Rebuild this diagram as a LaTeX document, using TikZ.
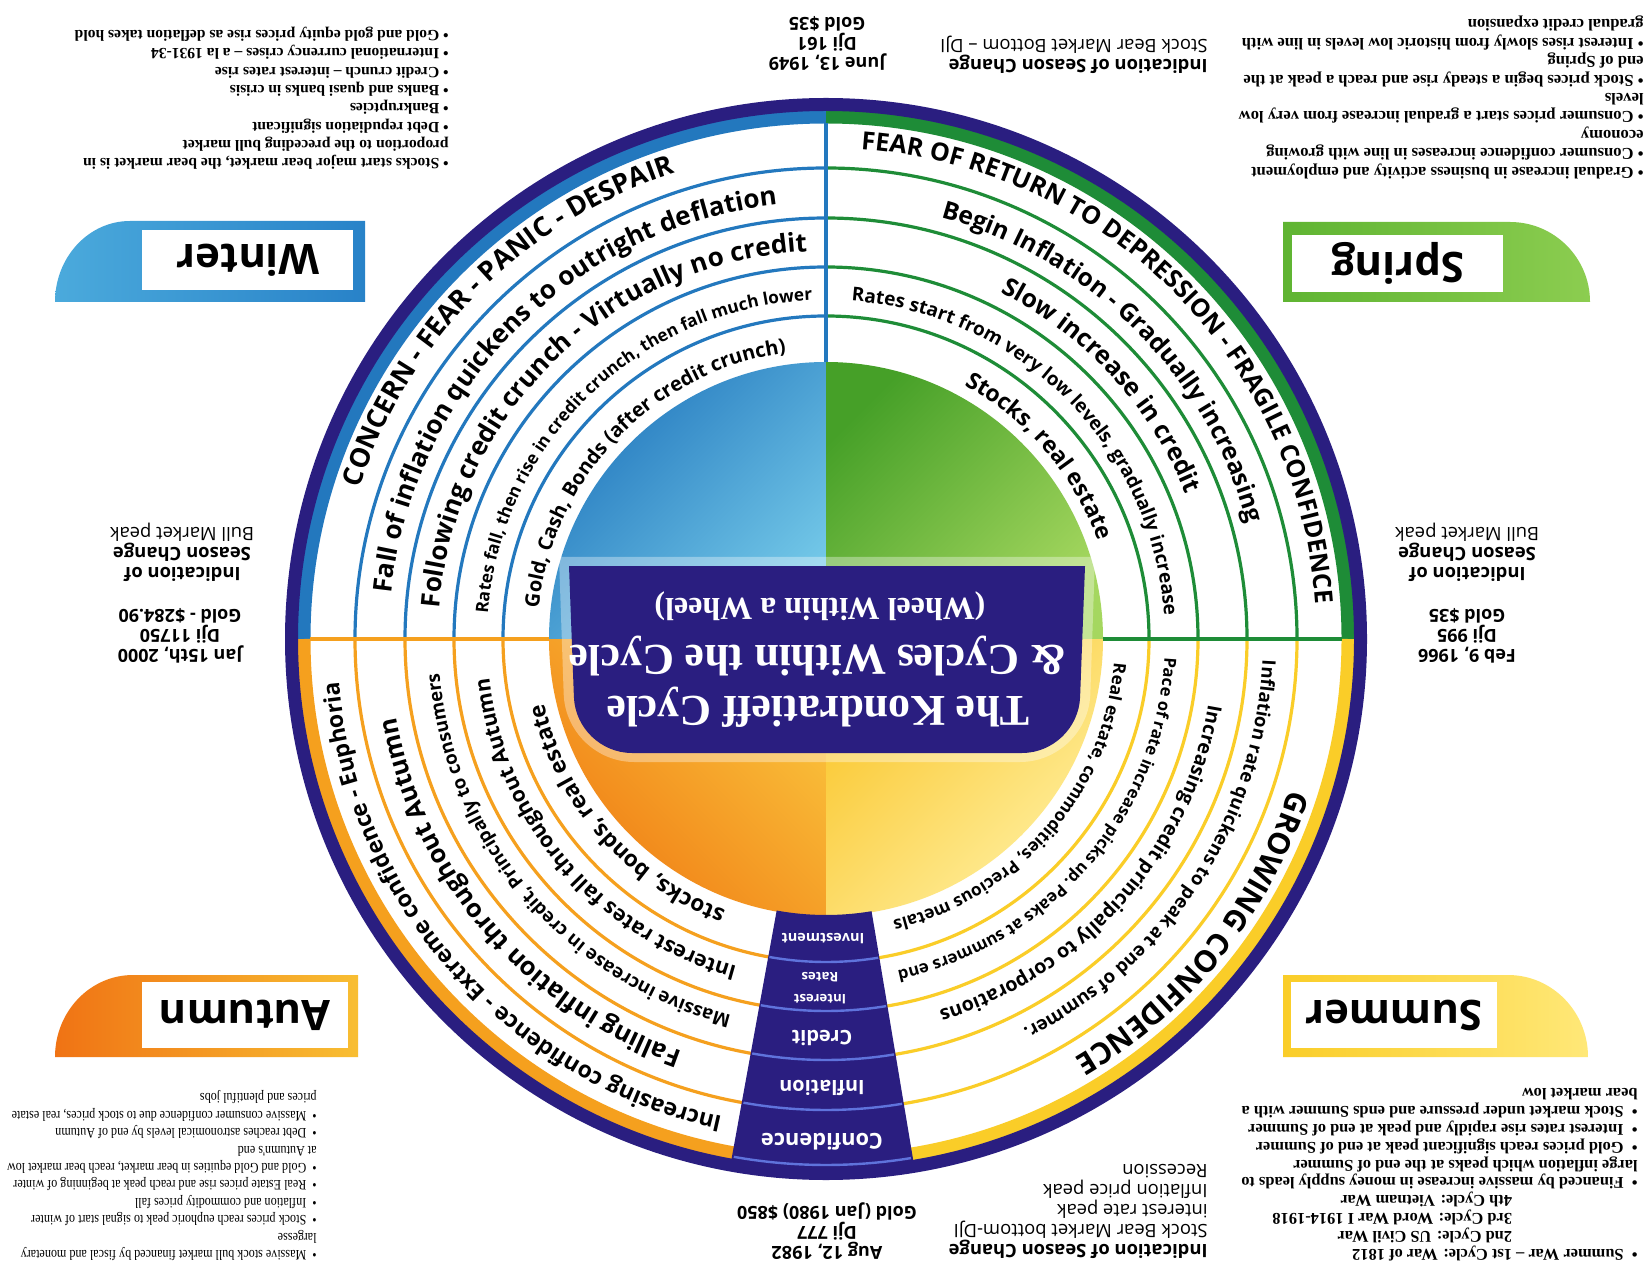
\documentclass[tikz,border=0pt]{standalone}
\usepackage{fontspec}
\setmainfont{Liberation Serif}
\setsansfont{Open Sans}
\newfontfamily\narrowserif[FakeStretch=0.84]{Liberation Serif}
\usetikzlibrary{decorations.text}

\definecolor{knavy}{RGB}{42,30,128}
\definecolor{kwedgeline}{RGB}{95,115,220}
\definecolor{winterblue}{RGB}{35,120,190}
\definecolor{winterlight}{RGB}{115,200,232}
\definecolor{springgreen}{RGB}{30,140,55}
\definecolor{springdark}{RGB}{70,160,40}
\definecolor{springlight}{RGB}{165,215,95}
\definecolor{autumnorange}{RGB}{245,160,30}
\definecolor{autumndark}{RGB}{240,125,20}
\definecolor{autumnlight}{RGB}{250,195,60}
\definecolor{summeryellow}{RGB}{250,205,40}
\definecolor{summergold}{RGB}{250,200,50}
\definecolor{summerlight}{RGB}{255,240,160}
\definecolor{wintertabA}{RGB}{75,170,220}
\definecolor{wintertabB}{RGB}{40,130,200}
\definecolor{springtabA}{RGB}{95,180,50}
\definecolor{springtabB}{RGB}{140,205,80}
\definecolor{autumntabA}{RGB}{240,115,20}
\definecolor{autumntabB}{RGB}{248,190,50}
\definecolor{summertabA}{RGB}{250,205,40}
\definecolor{summertabB}{RGB}{255,232,120}

% text set along a ring, centred on angle #1 at radius #2
\newcommand{\ringtext}[4]{%
  \path[decorate,decoration={text along path,text align=center,
      text={|\sffamily\bfseries\fontsize{#3}{#3}\selectfont|#4}}]
    (#1+70:#2) arc[start angle=#1+70,end angle=#1-70,radius=#2];}
% the coloured rings of one season, from angle #1 to #2
\newcommand{\seasonrings}[3]{%
  \draw[#3,line width=6.5pt] (#1:522) arc[start angle=#1,end angle=#2,radius=522];
  \draw[#3,ringline] (#1:323) arc[start angle=#1,end angle=#2,radius=323];
  \draw[#3,ringline] (#1:372) arc[start angle=#1,end angle=#2,radius=372];
  \draw[#3,ringline] (#1:421) arc[start angle=#1,end angle=#2,radius=421];
  \draw[#3,ringline] (#1:471) arc[start angle=#1,end angle=#2,radius=471];}

\begin{document}
\begin{tikzpicture}[x=0.5pt,y=0.5pt,
  ringline/.style={line width=1.6pt},
  flipped/.style={rotate=180,inner sep=0pt},
  datetxt/.style={flipped,align=center,font=\sffamily\bfseries\fontsize{9}{10}\selectfont},
  notetxt/.style={flipped,align=left,font=\sffamily\fontsize{9.2}{10}\selectfont},
  listtxt/.style={flipped,align=left,anchor=north west},
  tablabel/.style={flipped,font=\sffamily\bfseries\fontsize{21}{21}\selectfont},
  titletxt/.style={flipped,text=white,font=\bfseries\fontsize{22}{22}\selectfont},
  wedgetxt/.style={flipped,text=white,align=center}]

  \useasboundingbox (0,0) rectangle (1652,-1277);
  \fill[white] (0,0) rectangle (1652,-1277);

  \begin{scope}[shift={(826,-639)}]
    % inner disk
    \shade[top color=winterblue,bottom color=winterlight,shading angle=45]
      (0,0) -- (90:277) arc[start angle=90,end angle=180,radius=277] -- cycle;
    \shade[top color=springdark,bottom color=springlight,shading angle=45]
      (0,0) -- (0:277) arc[start angle=0,end angle=90,radius=277] -- cycle;
    \shade[top color=autumnlight,bottom color=autumndark,shading angle=-45]
      (0,0) -- (180:277) arc[start angle=180,end angle=270,radius=277] -- cycle;
    \shade[top color=summergold,bottom color=summerlight,shading angle=45]
      (0,0) -- (270:277) arc[start angle=270,end angle=360,radius=277] -- cycle;

    % rings
    \seasonrings{90}{180}{winterblue}
    \seasonrings{0}{90}{springgreen}
    \seasonrings{180}{270}{autumnorange}
    \seasonrings{270}{360}{summeryellow}
    \fill[knavy,even odd rule] (0,0) circle[radius=541] (0,0) circle[radius=528];

    \draw[winterblue,ringline] (90:277) -- (90:516);
    \draw[springgreen,ringline] (0:277) -- (0:516);
    \draw[autumnorange,ringline] (180:277) -- (180:516);

    % wedge of the five cycles
    \fill[knavy] (-100.3:276) arc[start angle=-100.3,end angle=-80.5,radius=276]
      -- (-80.5:536) arc[start angle=-80.5,end angle=-100.3,radius=536] -- cycle;
    \draw[kwedgeline,line width=1.2pt] (-100.1:323) arc[start angle=-100.1,end angle=-80.7,radius=323];
    \draw[kwedgeline,line width=1.2pt] (-100.1:372) arc[start angle=-100.1,end angle=-80.7,radius=372];
    \draw[kwedgeline,line width=1.2pt] (-100.1:421) arc[start angle=-100.1,end angle=-80.7,radius=421];
    \draw[kwedgeline,line width=1.2pt] (-100.1:471) arc[start angle=-100.1,end angle=-80.7,radius=471];
    \draw[kwedgeline,line width=1.2pt] (-100.1:526) arc[start angle=-100.1,end angle=-80.7,radius=526];

    % Spring
    \ringtext{45}{491}{12.5}{FEAR OF RETURN TO DEPRESSION - FRAGILE CONFIDENCE}
    \ringtext{45}{437}{12.3}{Begin Inflation - Gradually increasing}
    \ringtext{42.6}{388}{12.5}{Slow increase in credit}
    \ringtext{44.8}{339}{9.5}{Rates start from very low levels, gradually increase}
    \ringtext{40.6}{289}{11.5}{Stocks, real estate}
    % Winter
    \ringtext{135}{490}{13.5}{CONCERN - FEAR - PANIC - DESPAIR}
    \ringtext{135.2}{437}{13}{Fall of inflation quickens to outright deflation}
    \ringtext{134.1}{388}{13}{Following credit crunch - Virtually no credit}
    \ringtext{134}{339}{8.6}{Rates fall, then rise in credit crunch, then fall much lower}
    \ringtext{135.9}{289}{10}{Gold, Cash, Bonds (after credit crunch)}
    % Summer
    \ringtext{-38.7}{487}{15}{GROWING CONFIDENCE}
    \ringtext{-33}{437}{9.3}{Inflation rate quickens to peak at end of summer.}
    \ringtext{-41.4}{388}{9.8}{Increasing credit principally to corporations}
    \ringtext{-40.5}{339}{8.3}{Pace of rate increase picks up. Peaks at summers end}
    \ringtext{-40.7}{289}{8.6}{Real estate, commodities, Precious metals}
    % Autumn
    \ringtext{-138.6}{489}{11.5}{Increasing confidence - Extreme confidence - Euphoria}
    \ringtext{-139.5}{437}{12.7}{Falling inflation throughout Autumn}
    \ringtext{-139.5}{388}{9.3}{Massive increase in credit, Principally to consumers}
    \ringtext{-139.3}{339}{10.6}{Interest rates fall throughout Autumn}
    \ringtext{-138.7}{289}{11.3}{stocks, bonds, real estate}
  \end{scope}

  % title banner
  \fill[white,opacity=0.35] (559,-557) -- (1095,-557) [rounded corners=34]-- (1088,-762) -- (566,-762) [sharp corners]-- cycle;
  \fill[knavy] (569,-566) -- (1085,-566) [rounded corners=28]-- (1078,-753) -- (576,-753) [sharp corners]-- cycle;
  \node[titletxt] (title1) at (818,-707) {The Kondratieff Cycle};
  \node[titletxt] (title2) at (818,-656) {\& Cycles Within the Cycle};
  \node[titletxt,font=\bfseries\fontsize{16}{16}\selectfont] (title3) at (820,-606) {(Wheel Within a Wheel)};

  % wedge labels
  \node[wedgetxt,font=\sffamily\bfseries\fontsize{7.2}{8}\selectfont] (investment) at (823,-939) {Investment};
  \node[wedgetxt,font=\sffamily\bfseries\fontsize{6.6}{11}\selectfont] (rates) at (820,-988) {Interest\\Rates};
  \node[wedgetxt,font=\sffamily\bfseries\fontsize{10}{10}\selectfont] (credit) at (822,-1038) {Credit};
  \node[wedgetxt,font=\sffamily\bfseries\fontsize{9.9}{10}\selectfont] (inflation) at (822,-1088) {Inflation};
  \node[wedgetxt,font=\sffamily\bfseries\fontsize{10.9}{11}\selectfont] (confidence) at (822,-1142) {Confidence};

  % season tabs
  \shade[left color=wintertabA,right color=wintertabB] (55,-302) -- (365,-302) -- (365,-221) -- (130,-221)
    arc[start angle=90,end angle=180,x radius=75,y radius=81] -- cycle;
  \fill[white] (142,-230) rectangle (353,-290);
  \node[tablabel] (winter) at (248,-260) {Winter};

  \shade[left color=springtabA,right color=springtabB] (1283,-302) -- (1590,-302)
    arc[start angle=0,end angle=90,x radius=80,y radius=80] -- (1283,-222) -- cycle;
  \fill[white] (1292,-235) rectangle (1503,-292);
  \node[tablabel] (spring) at (1398,-263) {Spring};

  \shade[left color=autumntabA,right color=autumntabB] (55,-1057) -- (358,-1057) -- (358,-975) -- (133,-975)
    arc[start angle=90,end angle=180,x radius=78,y radius=82] -- cycle;
  \fill[white] (142,-982) rectangle (348,-1048);
  \node[tablabel] (autumn) at (245,-1015) {Autumn};

  \shade[left color=summertabA,right color=summertabB] (1283,-1057) -- (1588,-1057)
    arc[start angle=0,end angle=90,x radius=80,y radius=82] -- (1283,-975) -- cycle;
  \fill[white] (1291,-982) rectangle (1497,-1048);
  \node[tablabel] (summer) at (1394,-1015) {Summer};

  % dates and season changes
  \node[datetxt] (date1949) at (827,-44) {June 13, 1949\\Dji 161\\Gold \$35};
  \node[notetxt,anchor=west] (note1949) at (1208,-55) {\textbf{Indication of Season Change}\\Stock Bear Market Bottom – DJI};
  \node[notetxt,align=center] (note2000) at (182,-552) {\textbf{Indication of}\\\textbf{Season Change}\\Bull Market peak};
  \node[datetxt] (date2000) at (180,-636) {Jan 15th, 2000\\Dji 11750\\Gold - \$284.90};
  \node[notetxt,align=center] (note1966) at (1467,-552) {\textbf{Indication of}\\\textbf{Season Change}\\Bull Market peak};
  \node[datetxt] (date1966) at (1467,-636) {Feb 9, 1966\\Dji 995\\Gold \$35};
  \node[datetxt] (date1982) at (827,-1231) {Aug 12, 1982\\Dji 777\\Gold (Jan 1980) \$850};
  \node[notetxt,anchor=west] (note1982) at (1208,-1211) {\textbf{Indication of Season Change}\\Stock Bear Market bottom-DJI\\interest rate peak\\Inflation price peak\\Recession};

  % season notes
  \node[listtxt,font=\bfseries\fontsize{7.8}{9.15}\selectfont] (winterlist) at (449,-170) {%
    \textbullet\ Stocks start major bear market, the bear market is in\\
    proportion to the preceding bull market\\
    \textbullet\ Debt repudiation significant\\
    \textbullet\ Bankruptcies\\
    \textbullet\ Banks and quasi banks in crisis\\
    \textbullet\ Credit crunch – interest rates rise\\
    \textbullet\ International currency crises – a la 1931-34\\
    \textbullet\ Gold and gold equity prices rise as deflation takes hold};
  \node[listtxt,font=\bfseries\fontsize{8.3}{9.2}\selectfont] (springlist) at (1644,-179) {%
    \textbullet\ Gradual increase in business activity and employment\\
    \textbullet\ Consumer confidence increases in line with growing\\
    economy\\
    \textbullet\ Consumer prices start a gradual increase from very low\\
    levels\\
    \textbullet\ Stock prices begin a steady rise and reach a peak at the\\
    end of Spring\\
    \textbullet\ Interest rises slowly from historic low levels in line with\\
    gradual credit expansion};
  \node[listtxt,font=\narrowserif\fontsize{7.2}{8.7}\selectfont] (autumnlist) at (317,-1261) {%
    \textbullet\ \ Massive stock bull market financed by fiscal and monetary\\
    largesse\\
    \textbullet\ \ Stock prices reach euphoric peak to signal start of winter\\
    \textbullet\ \ Inflation and commodity prices fall\\
    \textbullet\ \ Real Estate prices rise and reach peak at beginning of winter\\
    \textbullet\ \ Gold and Gold equities in bear market, reach bear market low\\
    at Autumn's end\\
    \textbullet\ \ Debt reaches astronomical levels by end of Autumn\\
    \textbullet\ \ Massive consumer confidence due to stock prices, real estate\\
    prices and plentiful jobs};
  \node[listtxt,font=\bfseries\fontsize{8.2}{8.9}\selectfont] (summerlist) at (1638,-1261) {%
    \textbullet\ \ Summer War – 1st Cycle: War of 1812\\
    \phantom{\textbullet\ \ Summer War – }2nd Cycle: US Civil War\\
    \phantom{\textbullet\ \ Summer War – }3rd Cycle: Word War I 1914-1918\\
    \phantom{\textbullet\ \ Summer War – }4th Cycle: Vietnam War\\
    \textbullet\ \ Financed by massive increase in money supply leads to\\
    large inflation which peaks at the end of Summer\\
    \textbullet\ \ Gold prices reach significant peak at end of Summer\\
    \textbullet\ \ Interest rates rise rapidly and peak at end of Summer\\
    \textbullet\ \ Stock market under pressure and ends Summer with a\\
    bear market low};
\end{tikzpicture}
\end{document}
